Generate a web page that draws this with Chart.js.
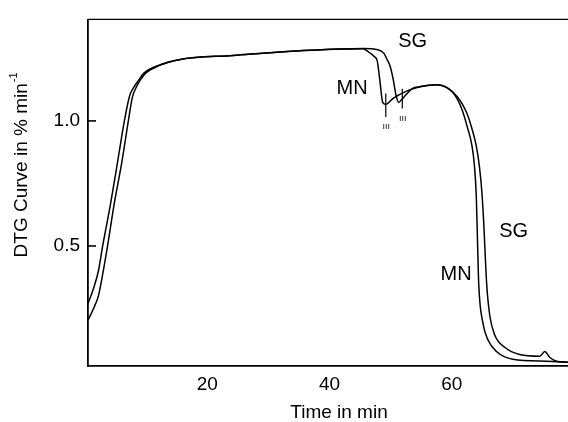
<!DOCTYPE html>
<html>
<head>
<meta charset="utf-8">
<script src="https://cdn.jsdelivr.net/npm/chart.js@4"></script>
<style>
  html, body { margin: 0; padding: 0; background: #fff; }
  canvas { display: block; }
</style>
</head>
<body>
<canvas id="dtg" width="568" height="422"></canvas>
<script>
// DTG curves (time in min, rate in % min-1)
const mnTime = [0.5, 1.4, 2.2, 2.9, 4.2, 5.3, 6.45, 7.3, 8.0, 8.7, 9.6, 11.8, 15.6, 24.2, 35.2, 45.5,
  46.1, 47.3, 47.8, 48.2, 48.7, 49.2, 50.4, 52.7, 54.8, 57.5, 60.2, 61.6, 62.6, 63.3, 63.7, 64.0, 64.2,
  64.4, 65.1, 65.9, 67.3, 70.0, 75.5, 79.0];
const mnRate = [0.27, 0.33, 0.40, 0.50, 0.67, 0.83, 1.00, 1.10, 1.135, 1.16, 1.19, 1.22, 1.246, 1.262, 1.281, 1.289,
  1.281, 1.258, 1.240, 1.168, 1.074, 1.066, 1.09, 1.12, 1.137, 1.145, 1.113, 1.05, 0.97, 0.90, 0.82, 0.70, 0.52,
  0.348, 0.19, 0.125, 0.078, 0.047, 0.039, 0.035];

const sgTime = [0.5, 1.4, 2.2, 3.0, 3.7, 4.8, 6.0, 7.1, 7.75, 8.4, 9.1, 9.9, 12.0, 15.6, 24.2, 35.2, 45.5,
  47.9, 48.9, 49.4, 49.9, 50.4, 50.9, 51.3, 51.8, 52.7, 53.6, 54.8, 57.5, 59.2, 61.0, 62.4, 63.4, 64.0, 64.5,
  64.9, 65.2, 65.7, 66.2, 67.0, 68.7, 71.1, 74.4, 75.2, 76.0, 77.1, 79.0];
const sgRate = [0.203, 0.25, 0.30, 0.40, 0.50, 0.67, 0.83, 1.00, 1.094, 1.135, 1.165, 1.19, 1.22, 1.246, 1.262, 1.281, 1.29,
  1.285, 1.27, 1.246, 1.22, 1.168, 1.10, 1.074, 1.086, 1.11, 1.13, 1.137, 1.145, 1.133, 1.094, 1.035, 0.96, 0.90, 0.82,
  0.72, 0.60, 0.348, 0.223, 0.145, 0.094, 0.066, 0.059, 0.078, 0.055, 0.039, 0.035];

// small vertical markers at the two minima
const markerTime = [49.2, 51.9];
const markerTop = [1.11, 1.129];
const markerBottom = [1.016, 1.05];

// curve labels: [text, time, rate]
const curveLabels = [
  ['SG', 53.6, 1.316],
  ['MN', 43.7, 1.129],
  ['SG', 70.1, 0.559],
  ['MN', 60.7, 0.387]
];

const xTicks = [20, 40, 60];
const yTicks = [0.5, 1.0];

const FONT = '"Liberation Sans", Arial, sans-serif';
const INK = '#000';

const toPoints = (xs, ys) => xs.map((x, i) => ({ x: x, y: ys[i] }));

const curveStyle = {
  borderColor: INK,
  borderWidth: 1.5,
  pointRadius: 0,
  fill: false,
  cubicInterpolationMode: 'monotone'
};

const markerSets = markerTime.map((t, i) => ({
  data: [{ x: t, y: markerTop[i] }, { x: t, y: markerBottom[i] }],
  borderColor: INK,
  borderWidth: 1.2,
  pointRadius: 0
}));

// frame top line, inward y ticks, titles and curve labels
const decorations = {
  id: 'decorations',
  afterDraw(chart) {
    const { ctx, chartArea, scales } = chart;
    const x = scales.x, y = scales.y;
    ctx.save();
    ctx.strokeStyle = INK;
    ctx.fillStyle = INK;

    ctx.lineWidth = 1.4;
    ctx.beginPath();
    ctx.moveTo(chartArea.left, chartArea.top);
    ctx.lineTo(chartArea.right, chartArea.top);
    ctx.stroke();

    ctx.lineWidth = 1.6;
    yTicks.forEach(v => {
      const py = y.getPixelForValue(v);
      ctx.beginPath();
      ctx.moveTo(chartArea.left, py);
      ctx.lineTo(chartArea.left + 8, py);
      ctx.stroke();
    });

    ctx.textAlign = 'center';
    ctx.textBaseline = 'middle';
    ctx.font = '20px ' + FONT;
    curveLabels.forEach(([txt, t, r]) => {
      ctx.fillText(txt, x.getPixelForValue(t), y.getPixelForValue(r));
    });

    ctx.font = '9px ' + FONT;
    markerTime.forEach((t, i) => {
      ctx.fillText('ııı', x.getPixelForValue(t) + 0.5, y.getPixelForValue(markerBottom[i]) + 10);
    });

    // x title
    ctx.font = '19px ' + FONT;
    ctx.fillText('Time in min', chartArea.left + 251, chartArea.bottom + 47);

    // y title with superscript
    ctx.translate(chartArea.left - 66, chartArea.top + 146);
    ctx.rotate(-Math.PI / 2);
    const main = 'DTG Curve in % min';
    const sup = '-1';
    ctx.font = '19px ' + FONT;
    const wMain = ctx.measureText(main).width;
    ctx.font = '11px ' + FONT;
    const wSup = ctx.measureText(sup).width;
    const start = -(wMain + wSup) / 2;
    ctx.textAlign = 'left';
    ctx.font = '19px ' + FONT;
    ctx.fillText(main, start, 0);
    ctx.font = '11px ' + FONT;
    ctx.fillText(sup, start + wMain + 1, -8);
    ctx.restore();
  }
};

new Chart(document.getElementById('dtg'), {
  type: 'line',
  data: {
    datasets: [
      Object.assign({ label: 'MN', data: toPoints(mnTime, mnRate) }, curveStyle),
      Object.assign({ label: 'SG', data: toPoints(sgTime, sgRate) }, curveStyle),
      ...markerSets
    ]
  },
  options: {
    responsive: false,
    animation: false,
    layout: { padding: { top: 12, right: 0, left: 0, bottom: 0 } },
    plugins: {
      legend: { display: false },
      tooltip: { enabled: false }
    },
    scales: {
      x: {
        type: 'linear',
        min: 0.5,
        max: 79,
        afterBuildTicks: s => { s.ticks = xTicks.map(v => ({ value: v })); },
        afterFit: s => { s.height = 56; },
        grid: { display: false, drawTicks: false },
        border: { display: true, color: INK, width: 1.8 },
        ticks: {
          padding: 7,
          color: INK,
          font: { family: FONT, size: 19 },
          maxRotation: 0,
          callback: v => String(v)
        }
      },
      y: {
        min: 0.02,
        max: 1.406,
        afterBuildTicks: s => { s.ticks = yTicks.map(v => ({ value: v })); },
        afterFit: s => { s.width = 88; },
        grid: { display: false, drawTicks: false },
        border: { display: true, color: INK, width: 1.8 },
        ticks: {
          padding: 8,
          color: INK,
          font: { family: FONT, size: 19 },
          callback: v => Number(v).toFixed(1)
        }
      }
    }
  },
  plugins: [decorations]
});
</script>
</body>
</html>
